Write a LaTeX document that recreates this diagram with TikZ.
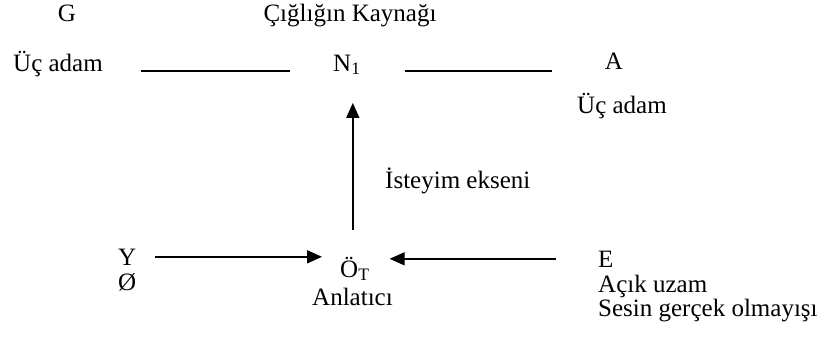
\documentclass[tikz,border=0pt]{standalone}
\usepackage{fontspec}
\setmainfont{Liberation Serif}
\usepackage{tikz}
\usetikzlibrary{positioning,arrows.meta,calc}

\begin{document}
\begin{tikzpicture}[x=1pt, y=-1pt,
    lbl/.style={inner sep=0pt, font=\fontsize{25}{25}\selectfont},
    axis/.style={line width=1.6pt},
    arr/.style={line width=1.6pt, -{Triangle[length=15pt,width=13pt]}}]
  % Marco
  \useasboundingbox (0,0) rectangle (839,343);

  % Fila superior
  \node[lbl, anchor=base] (G) at (67,21) {G};
  \node[lbl, anchor=base] (kaynak) at (350,21) {Çığlığın Kaynağı};
  \node[lbl, anchor=base west] (ucL) at (13,71) {Üç adam};
  \node[lbl, anchor=base west] (N1) at (333,71) {N\textsubscript{1}};
  \node[lbl, anchor=base] (A) at (614,69) {A};
  \node[lbl, anchor=base west] (ucR) at (577,113) {Üç adam};

  \draw[axis, shorten <=38pt, shorten >=43pt] (ucL.base east) -- (N1.base west);
  \draw[axis, shorten <=44pt] (N1.base east) -- ($(N1.base east -| A.west)+(-53,0)$);

  % Eje del deseo
  \node[lbl, anchor=base west] (eje) at (385,188) {İsteyim ekseni};

  % Fila inferior
  \node[lbl, anchor=base west] (Y) at (118,265) {Y};
  \node[lbl, anchor=base west] (bos) at (118,290) {Ø};
  \node[lbl, anchor=base west] (OT) at (340,277) {Ö\textsubscript{T}};
  \node[lbl, anchor=base west] (anl) at (312,305) {Anlatıcı};
  \node[lbl, anchor=base west] (E) at (598,267) {E};
  \node[lbl, anchor=base west] (acik) at (598,292) {Açık uzam};
  \node[lbl, anchor=base west] (ses) at (598,316) {Sesin gerçek olmayışı};

  \draw[arr, shorten <=19pt, shorten >=18pt] (Y.east) -- (Y.east -| OT.west);
  \draw[arr, shorten <=42pt, shorten >=20pt] (E.west) -- (E.west -| OT.east);
  \draw[arr] ($(OT.north)+(-2,-27)$) -- ($(OT.north |- N1.south)+(-2,28)$);
\end{tikzpicture}
\end{document}
